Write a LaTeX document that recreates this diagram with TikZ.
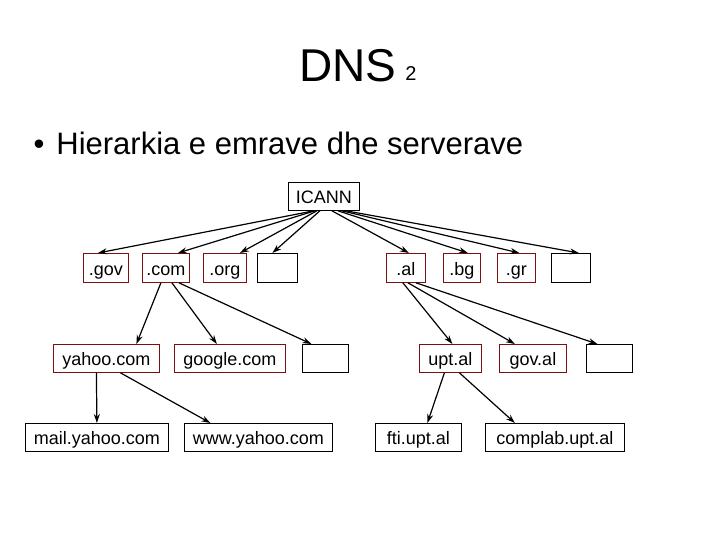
\documentclass[tikz,border=0pt]{standalone}
\usepackage{fontspec}
\setmainfont{Liberation Sans}
\usetikzlibrary{arrows.meta}
\definecolor{dred}{HTML}{7A1010}
\begin{document}
\begin{tikzpicture}[x=1pt,y=-1pt,
  lbl/.style={draw=dred,line width=0.8pt,anchor=north west,inner sep=0pt,text height=17pt,text depth=2pt,font=\fontsize{18}{20}\selectfont},
  blk/.style={draw=black,line width=0.8pt,anchor=north west,inner sep=0pt,text height=17pt,text depth=2pt,font=\fontsize{18}{20}\selectfont},
  arr/.style={-{Stealth[length=9pt,width=6pt]},line width=1.2pt}]
\useasboundingbox (0,0) rectangle (720,540);
\node[font=\fontsize{46}{50}\selectfont] (title) at (348,66) {DNS};
\node[font=\fontsize{20}{24}\selectfont] (sub) at (411,74) {2};
\node[anchor=west,font=\fontsize{31}{34}\selectfont] (bul) at (30,143) {•\hspace{12pt}Hierarkia e emrave dhe serverave};
% boxes
\newcommand{\bx}[7]{\node[#1,minimum width=#5-#3,minimum height=#6-#4] (#2) at (#3,#4) {#7};}
\bx{blk}{icann}{288}{182}{359}{210}{ICANN}
\bx{lbl}{gov}{83}{253}{128}{282}{.gov}
\bx{lbl}{com}{142}{253}{189}{282}{.com}
\bx{lbl}{org}{203}{253}{246}{282}{.org}
\bx{blk}{e1}{257}{253}{297}{282}{}
\bx{lbl}{al}{386}{253}{425}{282}{.al}
\bx{lbl}{bg}{443}{253}{480}{282}{.bg}
\bx{lbl}{gr}{497}{253}{535}{282}{.gr}
\bx{blk}{e2}{551}{253}{590}{282}{}
\bx{lbl}{yahoo}{53}{344}{159}{372}{yahoo.com}
\bx{lbl}{google}{174}{344}{285}{372}{google.com}
\bx{blk}{e3}{302}{344}{348}{372}{}
\bx{lbl}{upt}{419}{344}{481}{372}{upt.al}
\bx{lbl}{goval}{499}{344}{566}{372}{gov.al}
\bx{blk}{e4}{586}{344}{632}{372}{}
\bx{blk}{mail}{25}{423}{168}{451}{mail.yahoo.com}
\bx{blk}{www}{184}{423}{332}{451}{www.yahoo.com}
\bx{blk}{fti}{375}{423}{461}{451}{fti.upt.al}
\bx{blk}{complab}{485}{423}{624}{451}{complab.upt.al}
% arrows from ICANN
\draw[arr] ([xshift=-10pt]icann.south) -- ([xshift=-8pt]gov.north);
\draw[arr] ([xshift=-9pt]icann.south) -- ([xshift=12pt]com.north);
\draw[arr] ([xshift=-7pt]icann.south) -- ([xshift=15pt]org.north);
\draw[arr] ([xshift=-4pt]icann.south) -- ([xshift=-5pt]e1.north);
\draw[arr] ([xshift=8pt]icann.south) -- ([xshift=3pt]al.north);
\draw[arr] ([xshift=14pt]icann.south) -- ([xshift=6pt]bg.north);
\draw[arr] ([xshift=18pt]icann.south) -- ([xshift=3pt]gr.north);
\draw[arr] ([xshift=22pt]icann.south) -- ([xshift=8pt]e2.north);
% second level
\draw[arr] ([xshift=-5pt]com.south) -- ([xshift=30pt]yahoo.north);
\draw[arr] ([xshift=6pt]com.south) -- ([xshift=-13pt]google.north);
\draw[arr] ([xshift=13pt]com.south) -- ([xshift=-14pt]e3.north);
\draw[arr] ([xshift=-3pt]al.south) -- ([xshift=2pt]upt.north);
\draw[arr] ([xshift=2pt]al.south) -- ([xshift=-18pt]goval.north);
\draw[arr] ([xshift=10pt]al.south) -- ([xshift=-12pt]e4.north);
% third level
\draw[arr] ([xshift=-10pt]yahoo.south) -- ([xshift=-0pt]mail.north);
\draw[arr] ([xshift=14pt]yahoo.south) -- ([xshift=-48pt]www.north);
\draw[arr] ([xshift=-6pt]upt.south) -- ([xshift=9pt]fti.north);
\draw[arr] ([xshift=9pt]upt.south) -- ([xshift=-40pt]complab.north);
\end{tikzpicture}
\end{document}
